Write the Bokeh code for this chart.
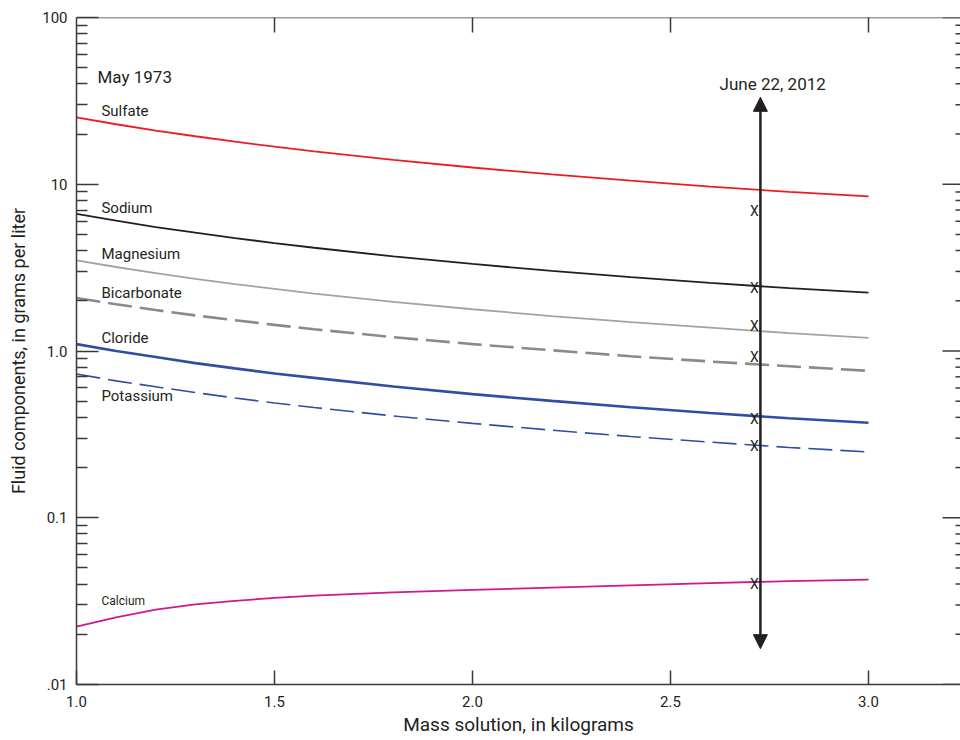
import math
from bokeh.plotting import figure
from bokeh.models import (ColumnDataSource, FixedTicker, LinearAxis, LogAxis,
                          Arrow, NormalHead, Range1d, Span)
from bokeh.core.properties import value
from bokeh.embed import file_html
from bokeh.resources import INLINE

# ---------------- data ----------------
mass = [1.0, 1.1, 1.2, 1.3, 1.4, 1.5, 1.6, 1.8, 2.0, 2.2, 2.4, 2.6, 2.8, 3.0]
sulfate = [25.2, 22.9, 21.0, 19.4, 18.0, 16.8, 15.75, 14.0, 12.6, 11.45, 10.5, 9.69, 9.0, 8.45]
sodium = [6.65, 6.05, 5.54, 5.12, 4.75, 4.44, 4.16, 3.69, 3.33, 3.02, 2.77, 2.56, 2.38, 2.24]
magnesium = [3.5, 3.19, 2.93, 2.71, 2.52, 2.36, 2.21, 1.97, 1.78, 1.62, 1.49, 1.38, 1.28, 1.20]
bicarbonate = [2.08, 1.906, 1.76, 1.635, 1.53, 1.435, 1.35, 1.21, 1.10, 1.01, 0.93, 0.865, 0.81, 0.76]
cloride = [1.10, 1.0, 0.92, 0.846, 0.787, 0.733, 0.69, 0.612, 0.551, 0.502, 0.46, 0.425, 0.395, 0.371]
potassium = [0.728, 0.662, 0.61, 0.563, 0.523, 0.488, 0.458, 0.408, 0.368, 0.335, 0.307, 0.284, 0.264, 0.248]
calcium = [0.0222, 0.0253, 0.0281, 0.0302, 0.0317, 0.0331, 0.0341, 0.0357, 0.0369, 0.0381, 0.0393, 0.0405, 0.0417, 0.0425]

# June 22, 2012 measurements
measured_mass = 2.712
measured = [6.9, 2.38, 1.41, 0.92, 0.392, 0.27, 0.0403]
arrow_mass = 2.727
arrow_low, arrow_high = 0.0164, 33.2

species_labels = ["Sulfate", "Sodium", "Magnesium", "Bicarbonate", "Cloride", "Potassium"]
species_label_y = [27.4, 7.18, 3.81, 2.23, 1.20, 0.538]

x_ticks = [1.0, 1.5, 2.0, 2.5, 3.0]
x_tick_labels = ["1.0", "1.5", "2.0", "2.5", "3.0"]
y_ticks = [0.01, 0.1, 1.0, 10.0, 100.0]
y_tick_labels = [".01", "0.1", "1.0", "10", "100"]

FONT = "Roboto"
INK = "#231f20"
AX = "#3a3a3a"
X0, X1 = 1.0, 3.2323
Y0, Y1 = 0.01, 100

p = figure(width=960, height=740, y_axis_type="log",
           x_range=Range1d(X0, X1), y_range=Range1d(Y0, Y1),
           output_backend="svg", toolbar_location=None,
           min_border_left=76, min_border_right=0, min_border_top=17,
           min_border_bottom=56, x_axis_location=None, y_axis_location=None)
p.grid.visible = False
p.outline_line_color = None
p.background_fill_color = "white"
p.border_fill_color = "white"

minor = [d * k for d in y_ticks[:-1] for k in range(2, 10)]

def style(ax, tick_in, minor_in=0):
    ax.axis_line_color = AX
    ax.axis_line_width = 1.5
    ax.major_tick_line_color = AX
    ax.major_tick_line_width = 1.5
    ax.major_tick_in = tick_in
    ax.major_tick_out = 0
    ax.minor_tick_line_color = AX
    ax.minor_tick_line_width = 1.5
    ax.minor_tick_in = minor_in
    ax.minor_tick_out = 0
    ax.major_label_text_font = FONT
    ax.major_label_text_color = INK
    ax.axis_label_text_font = FONT
    ax.axis_label_text_color = INK
    ax.axis_label_text_font_style = "normal"

left = LogAxis(ticker=FixedTicker(ticks=y_ticks, minor_ticks=minor),
               axis_label="Fluid components, in grams per liter")
style(left, 22, 11)
left.major_label_overrides = {t: l for t, l in zip(y_ticks, y_tick_labels)}
left.major_label_text_font_size = "15px"
left.major_label_standoff = 9
left.axis_label_text_font_size = "18px"
left.axis_label_standoff = 10
p.add_layout(left, "left")

bottom = LinearAxis(ticker=FixedTicker(ticks=x_ticks),
                    axis_label="Mass solution, in kilograms")
style(bottom, 14)
bottom.major_label_overrides = {t: l for t, l in zip(x_ticks, x_tick_labels)}
bottom.major_label_text_font_size = "15px"
bottom.major_label_standoff = 11
bottom.axis_label_text_font_size = "19px"
bottom.axis_label_standoff = 3
p.add_layout(bottom, "below")

# top frame edge
p.add_layout(Span(location=Y1, dimension="width", line_color=AX, line_width=1.5))

# inward ticks on the right and top frame edges (clipped to the frame)
p.scatter(x=[X1] * len(y_ticks), y=y_ticks, marker="dash", size=36,
          line_color=AX, line_width=1.5)
p.scatter(x=[X1] * len(minor), y=minor, marker="dash", size=10,
          line_color=AX, line_width=1.5)
p.scatter(x=x_ticks[1:], y=[Y1] * (len(x_ticks) - 1), marker="dash", size=30,
          angle=math.pi / 2, line_color=AX, line_width=1.5)

# ---------------- curves ----------------
p.line(mass, sulfate, line_color="#ed1c24", line_width=1.8)
p.line(mass, sodium, line_color=INK, line_width=1.8)
p.line(mass, magnesium, line_color="#a3a3a3", line_width=1.8)
p.line(mass, bicarbonate, line_color="#8a8a8a", line_width=2.6, line_dash="24 8")
p.line(mass, cloride, line_color="#2f4ea2", line_width=2.6)
p.line(mass, potassium, line_color="#2f4ea2", line_width=1.6, line_dash="24 8")
p.line(mass, calcium, line_color="#d1198b", line_width=1.8)

# ---------------- arrow & markers ----------------
p.add_layout(Arrow(x_start=arrow_mass, y_start=arrow_low, x_end=arrow_mass, y_end=arrow_high,
                   line_color=INK, line_width=2.5,
                   start=NormalHead(size=14, fill_color=INK, line_color=INK),
                   end=NormalHead(size=14, fill_color=INK, line_color=INK)))

msrc = ColumnDataSource(dict(x=[measured_mass] * len(measured), y=measured,
                             t=["X"] * len(measured)))
p.text(x="x", y="y", text="t", source=msrc, text_font=value(FONT),
       text_font_size="14px", text_color=INK, text_align="center",
       text_baseline="middle")

# ---------------- labels ----------------
lsrc = ColumnDataSource(dict(x=[1.063] * len(species_labels), y=species_label_y,
                             t=species_labels))
p.text(x="x", y="y", text="t", source=lsrc, text_font=value(FONT),
       text_font_size="15px", text_color=INK, text_align="left",
       text_baseline="middle")

p.text(x=[1.063], y=[0.0318], text=["Calcium"], text_font=value(FONT),
       text_font_size="12px", text_color=INK, text_align="left",
       text_baseline="middle")
p.text(x=[1.053], y=[43.7], text=["May 1973"], text_font=value(FONT),
       text_font_size="17px", text_color=INK, text_align="left",
       text_baseline="middle")
p.text(x=[2.758], y=[39.7], text=["June 22, 2012"], text_font=value(FONT),
       text_font_size="17px", text_color=INK, text_align="center",
       text_baseline="middle")

open("out.html", "w").write(file_html(p, INLINE))
